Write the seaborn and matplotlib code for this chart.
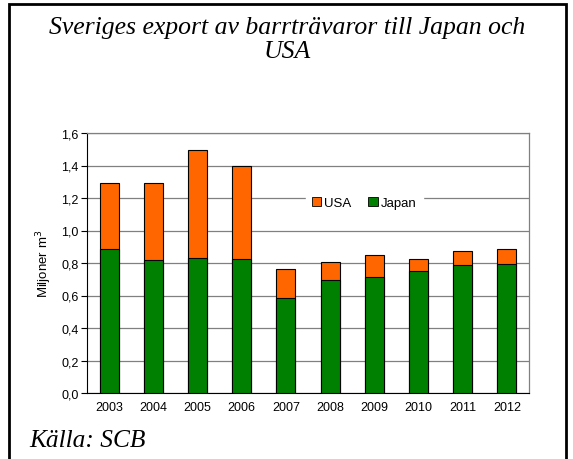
import matplotlib
matplotlib.use("Agg")
import matplotlib.pyplot as plt
import seaborn as sns
import pandas as pd
import numpy as np
from matplotlib.patches import Patch, Rectangle

years = ["2003", "2004", "2005", "2006", "2007", "2008", "2009", "2010", "2011", "2012"]
japan = [0.887, 0.817, 0.832, 0.826, 0.584, 0.697, 0.713, 0.750, 0.785, 0.793]
usa = [0.406, 0.473, 0.664, 0.573, 0.178, 0.112, 0.135, 0.072, 0.088, 0.092]
yticks = [0.0, 0.2, 0.4, 0.6, 0.8, 1.0, 1.2, 1.4, 1.6]

sns.set_style("white")
plt.rcParams['font.family'] = ['Liberation Sans', 'DejaVu Sans']
plt.rcParams.update({"text.color": "black", "axes.labelcolor": "black",
                     "xtick.color": "black", "ytick.color": "black"})

df = pd.DataFrame({"year": years, "Japan": japan, "USA": usa})
df["total"] = df["Japan"] + df["USA"]

fig = plt.figure(figsize=(5.73, 4.60), dpi=100)
ax = fig.add_axes([87/573, 1-394/460, 442/573, 260/460])

orange = "#FF6600"
green = "#008000"
sns.barplot(data=df, x="year", y="total", color=orange, width=0.43,
            edgecolor="black", linewidth=0.8, saturation=1, ax=ax, zorder=3)
sns.barplot(data=df, x="year", y="Japan", color=green, width=0.43,
            edgecolor="black", linewidth=0.8, saturation=1, ax=ax, zorder=4)

ax.set_ylim(0, 1.6)
ax.set_xlim(-0.5, len(years) - 0.5)
ax.set_yticks(yticks)
ax.set_yticklabels([f"{v:.1f}".replace(".", ",") for v in yticks], fontsize=9)
ax.set_xticks(range(len(years)))
ax.set_xticklabels(years, fontsize=9)
ax.set_xticks(np.arange(-0.5, len(years), 1), minor=True)
ax.tick_params(axis="x", which="major", length=0, pad=6)
ax.tick_params(axis="x", which="minor", length=4, width=0.8, color="black", direction="out")
ax.tick_params(axis="y", length=4, width=0.8, color="black", direction="out", left=True, pad=2)
ax.set_xlabel("")
ax.set_ylabel("Miljoner m$^3$", fontsize=9.5, labelpad=5)
ax.yaxis.grid(True, color="#808080", linewidth=0.9, zorder=0)
ax.set_axisbelow(True)
for s in ["top", "right"]:
    ax.spines[s].set_color("#808080")
    ax.spines[s].set_linewidth(0.9)
ax.spines["left"].set_color("black")
ax.spines["bottom"].set_color("black")
ax.spines["left"].set_linewidth(0.8)
ax.spines["bottom"].set_linewidth(0.8)

handles = [Patch(facecolor=orange, edgecolor="black", linewidth=0.6, label="USA"),
           Patch(facecolor=green, edgecolor="black", linewidth=0.6, label="Japan")]
leg = ax.legend(handles=handles, ncol=2, loc="center", bbox_to_anchor=(0.627, 0.731),
                fontsize=9.5, frameon=True, fancybox=False, edgecolor="white",
                facecolor="white", framealpha=1, handlelength=0.7, handleheight=0.7,
                handletextpad=0.2, columnspacing=1.3, borderpad=0.5)
leg.set_zorder(5)

fig.text(287/573, 1-40/460, "Sveriges export av barrträvaror till Japan och\nUSA",
         ha="center", va="center", fontsize=18.5, style="italic",
         family=["Liberation Serif", "DejaVu Serif"], linespacing=1.12)
fig.text(29/573, 1-441/460, "Källa: SCB", ha="left", va="center", fontsize=18.3,
         style="italic", family=["Liberation Serif", "DejaVu Serif"])

fig.patches.append(Rectangle((9/573, -0.02), 557/573, 1.02 - 5/460, transform=fig.transFigure,
                             fill=False, edgecolor="black", linewidth=2))

fig.savefig("out.png", dpi=100)
